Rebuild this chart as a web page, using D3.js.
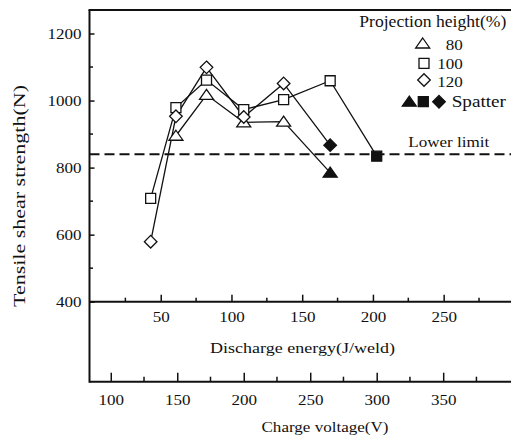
<!DOCTYPE html>
<html>
<head>
<meta charset="utf-8">
<script src="https://cdn.jsdelivr.net/npm/d3@7"></script>
<style>
  html, body { margin: 0; padding: 0; background: #fff; }
  svg { display: block; }
  text { font-family: "Liberation Serif", "Times New Roman", serif; fill: #111; }
</style>
</head>
<body>
<svg id="chart" width="513" height="439"></svg>
<script>
// Tensile shear strength vs charge voltage, per projection height
const volt80  = [149, 172, 200, 230, 265];
const str80   = [895, 1017, 935, 937, 785];
const volt100 = [130, 149, 172, 200, 230, 265, 300];
const str100  = [708, 979, 1061, 973, 1003, 1059, 834];
const volt120 = [130, 149, 172, 200, 230, 265];
const str120  = [579, 953, 1099, 951, 1051, 867];
// the last point of each series produced spatter
const spatter80 = [false, false, false, false, true];
const spatter100 = [false, false, false, false, false, false, true];
const spatter120 = [false, false, false, false, false, true];

const lowerLimit = 840;
const strengthTicks = [400, 600, 800, 1000, 1200];
const strengthMinor = [500, 700, 900, 1100];
const energyTicks = [50, 100, 150, 200, 250];
const energyMinor = [25, 75, 125, 175, 225, 275];
const voltTicks = [100, 150, 200, 250, 300, 350];
const voltMinor = [125, 175, 225, 275, 325, 375];
const legendLabels = ["80", "100", "120"];

const L = 89.5, R = 511, T = 10, B = 381.7, E = 301.7;
const NUM_SIZE = 15, DIGIT_W = 8.5;

const svg = d3.select("#chart");
const y = d3.scaleLinear().domain([400, 1200]).range([E, 33.5]);
const xV = d3.scaleLinear().domain([84, 401]).range([L, R]);
const xE = d3.scaleLinear().domain([0, 297.6]).range([90, R]);

// marker shapes
const shapes = {
  tri: "M0,-5.5L7,4.5L-7,4.5Z",
  sq: "M-5,-5H5V5H-5Z",
  dia: "M0,-6.3L6.3,0L0,6.3L-6.3,0Z"
};

// wide serif numerals
function styleNums(sel) {
  sel.attr("font-family", null).attr("font-size", NUM_SIZE).attr("fill", "#111")
    .attr("textLength", function () { return this.textContent.length * DIGIT_W; })
    .attr("lengthAdjust", "spacingAndGlyphs");
}

// frame lines
const frame = svg.append("g").attr("stroke", "#111").attr("stroke-width", 2).attr("fill", "none");
frame.append("line").attr("x1", L).attr("x2", L).attr("y1", T).attr("y2", B + 1);
frame.append("line").attr("x1", L - 1).attr("x2", R).attr("y1", T).attr("y2", T);
frame.append("line").attr("x1", L).attr("x2", R).attr("y1", E).attr("y2", E);
frame.append("line").attr("x1", L).attr("x2", R).attr("y1", B).attr("y2", B);

// strength axis (ticks point inward)
const yAxis = svg.append("g").attr("transform", `translate(${L},0)`)
  .call(d3.axisLeft(y).tickValues(strengthTicks).tickFormat(d3.format("d"))
    .tickSizeInner(-5).tickSizeOuter(0).tickPadding(8));
yAxis.attr("font-family", null);
yAxis.select(".domain").remove();
yAxis.selectAll("line").attr("stroke", "#111").attr("stroke-width", 1.5);
yAxis.selectAll("text").call(styleNums);
svg.append("g").selectAll("line").data(strengthMinor).join("line")
  .attr("x1", L).attr("x2", L + 3.5).attr("y1", d => y(d)).attr("y2", d => y(d))
  .attr("stroke", "#111").attr("stroke-width", 1.5);

// discharge energy axis
const eAxis = svg.append("g").attr("transform", `translate(0,${E})`)
  .call(d3.axisBottom(xE).tickValues(energyTicks).tickFormat(d3.format("d"))
    .tickSizeInner(-7).tickSizeOuter(0).tickPadding(9.3));
eAxis.attr("font-family", null);
eAxis.select(".domain").remove();
eAxis.selectAll("line").attr("stroke", "#111").attr("stroke-width", 1.5);
eAxis.selectAll("text").call(styleNums);
svg.append("g").selectAll("line").data(energyMinor).join("line")
  .attr("x1", d => xE(d)).attr("x2", d => xE(d)).attr("y1", E).attr("y2", E - 4)
  .attr("stroke", "#111").attr("stroke-width", 1.5);

// charge voltage axis
const vAxis = svg.append("g").attr("transform", `translate(0,${B})`)
  .call(d3.axisBottom(xV).tickValues(voltTicks).tickFormat(d3.format("d"))
    .tickSizeInner(-9).tickSizeOuter(0).tickPadding(12.6));
vAxis.attr("font-family", null);
vAxis.select(".domain").remove();
vAxis.selectAll("line").attr("stroke", "#111").attr("stroke-width", 1.5);
vAxis.selectAll("text").call(styleNums);
svg.append("g").selectAll("line").data(voltMinor).join("line")
  .attr("x1", d => xV(d)).attr("x2", d => xV(d)).attr("y1", B).attr("y2", B - 5)
  .attr("stroke", "#111").attr("stroke-width", 1.5);

// axis titles
svg.append("text").attr("font-size", 16)
  .attr("transform", `translate(25,196) rotate(-90)`).attr("text-anchor", "middle")
  .attr("textLength", 222).attr("lengthAdjust", "spacingAndGlyphs")
  .text("Tensile shear strength(N)");
svg.append("text").attr("font-size", 15)
  .attr("x", 302.5).attr("y", 353.3).attr("text-anchor", "middle")
  .attr("textLength", 185).attr("lengthAdjust", "spacingAndGlyphs")
  .text("Discharge energy(J/weld)");
svg.append("text").attr("font-size", 15.5)
  .attr("x", 325).attr("y", 431.7).attr("text-anchor", "middle")
  .attr("textLength", 127).attr("lengthAdjust", "spacingAndGlyphs")
  .text("Charge voltage(V)");

// lower limit
svg.append("line").attr("x1", L).attr("x2", R).attr("y1", y(lowerLimit)).attr("y2", y(lowerLimit))
  .attr("stroke", "#111").attr("stroke-width", 2).attr("stroke-dasharray", "10,5");
svg.append("text").attr("font-size", 15)
  .attr("x", 408.3).attr("y", 146.7)
  .attr("textLength", 81).attr("lengthAdjust", "spacingAndGlyphs")
  .text("Lower limit");

// series
const series = [
  { v: volt80, s: str80, sp: spatter80, shape: "tri" },
  { v: volt100, s: str100, sp: spatter100, shape: "sq" },
  { v: volt120, s: str120, sp: spatter120, shape: "dia" }
];
const line = d3.line().x(d => xV(d[0])).y(d => y(d[1]));
series.forEach(se => {
  const pts = se.v.map((v, i) => [v, se.s[i], se.sp[i]]);
  svg.append("path").datum(pts).attr("d", line)
    .attr("fill", "none").attr("stroke", "#111").attr("stroke-width", 1.3);
});
series.forEach(se => {
  const pts = se.v.map((v, i) => [v, se.s[i], se.sp[i]]);
  svg.append("g").selectAll("path").data(pts).join("path")
    .attr("d", shapes[se.shape])
    .attr("transform", d => `translate(${xV(d[0])},${y(d[1])})`)
    .attr("fill", d => d[2] ? "#111" : "#fff")
    .attr("stroke", "#111").attr("stroke-width", 1.3);
});

// legend
svg.append("text").attr("font-size", 16)
  .attr("x", 359.3).attr("y", 26.7)
  .attr("textLength", 147).attr("lengthAdjust", "spacingAndGlyphs")
  .text("Projection height(%)");
const legY = [43.5, 63.3, 80];
const legBase = [50, 69, 87];
const legShapes = ["tri", "sq", "dia"];
legShapes.forEach((sh, i) => {
  svg.append("path").attr("d", shapes[sh])
    .attr("transform", `translate(${sh === "tri" ? 422.7 : 424},${legY[i]})`)
    .attr("fill", "#fff").attr("stroke", "#111").attr("stroke-width", 1.3);
  svg.append("text").attr("x", 462.8).attr("y", legBase[i])
    .attr("text-anchor", "end").text(legendLabels[i]).call(styleNums);
});
[[409.3, "tri"], [423.3, "sq"], [439, "dia"]].forEach(([x, sh]) => {
  svg.append("path").attr("d", shapes[sh])
    .attr("transform", `translate(${x},101.7)`)
    .attr("fill", "#111").attr("stroke", "#111").attr("stroke-width", 1.3);
});
svg.append("text").attr("font-size", 16)
  .attr("x", 451.7).attr("y", 107)
  .attr("textLength", 54.3).attr("lengthAdjust", "spacingAndGlyphs")
  .text("Spatter");
</script>
</body>
</html>
